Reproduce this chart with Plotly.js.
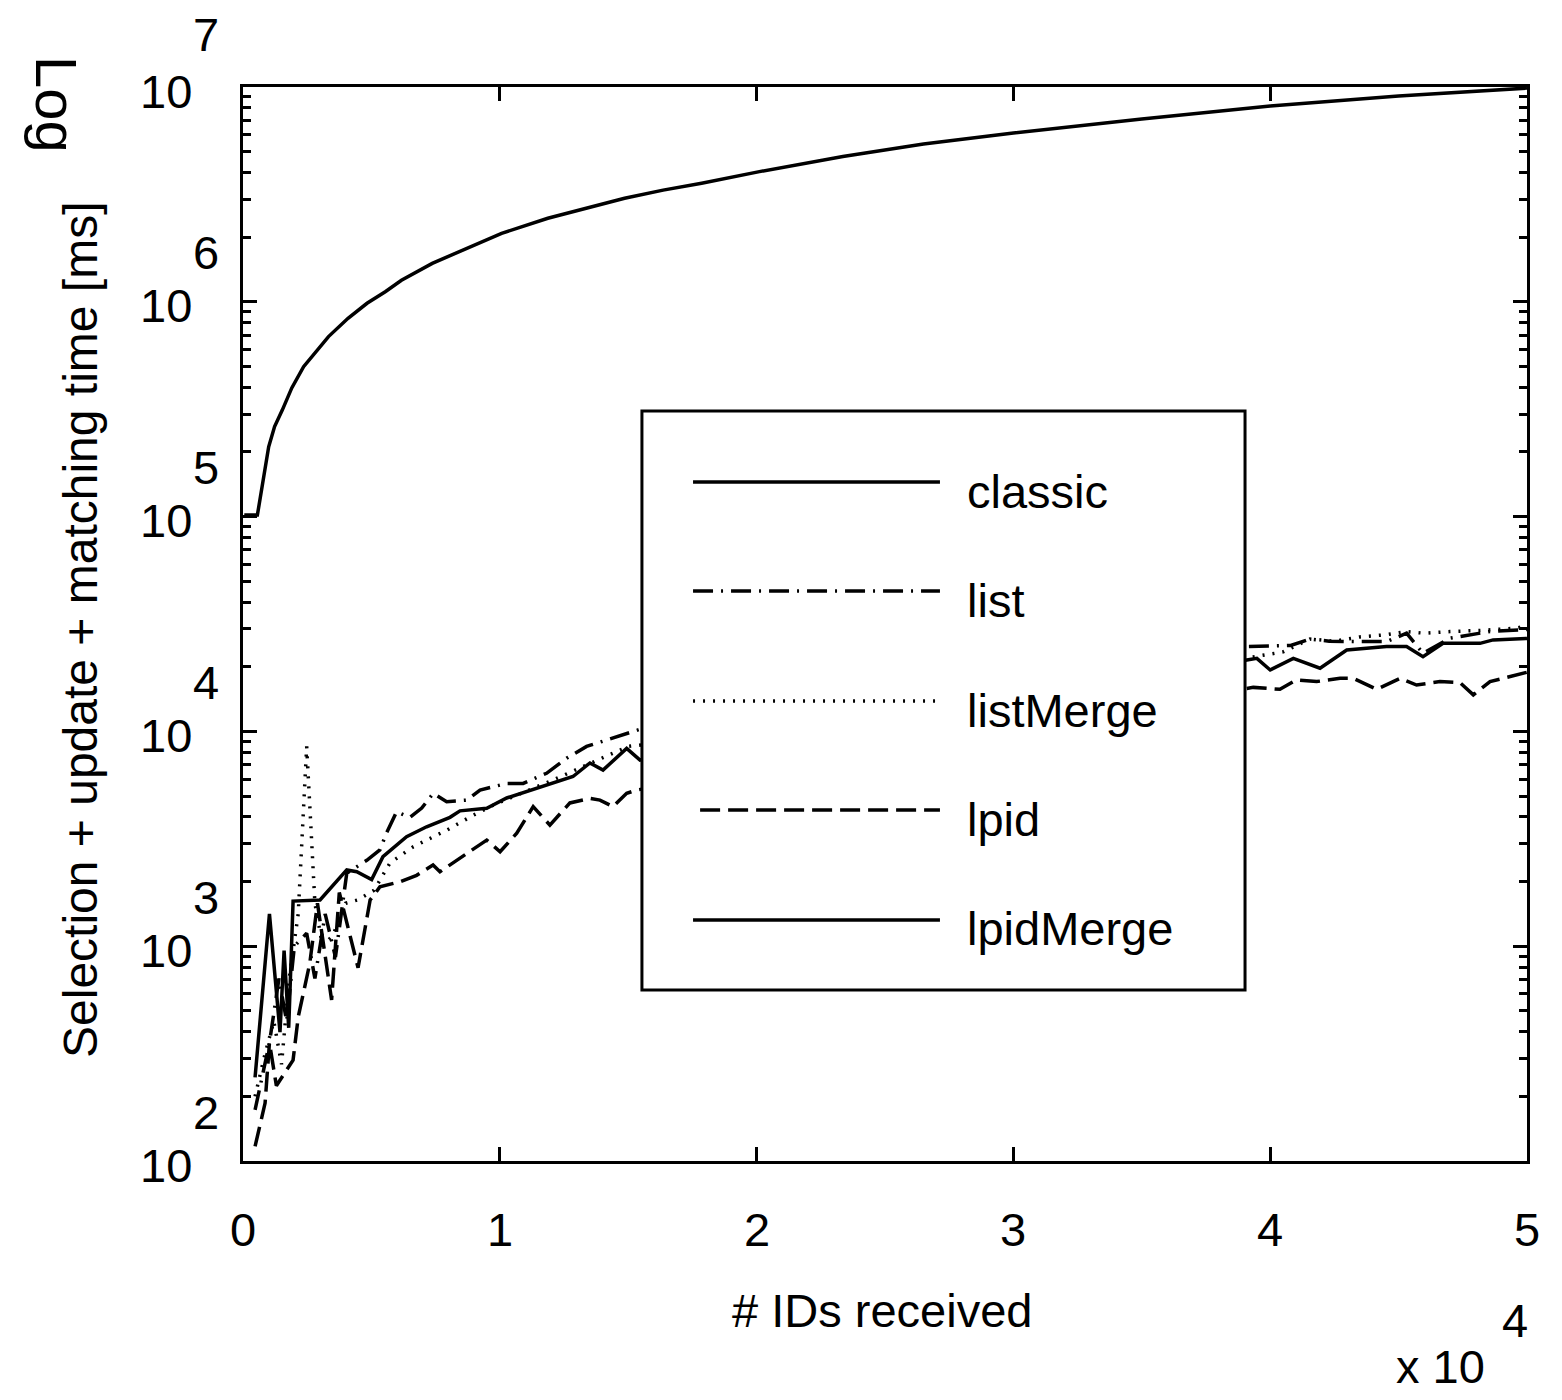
<!DOCTYPE html>
<html>
<head>
<meta charset="utf-8">
<script src="https://cdn.plot.ly/plotly-3.0.1.min.js"></script>
<style>html,body{margin:0;padding:0;background:#fff;}</style>
</head>
<body>
<div id="chart" style="width:1562px;height:1400px;"></div>
<script>
// ---- data (time in ms vs # IDs received) ----
const seriesNames = ["classic", "list", "listMerge", "lpid", "lpidMerge"];

const classicX = [50, 560, 1000, 1230, 1530, 1900, 2360, 2880, 3330, 4090, 4830, 5540, 6170, 7370, 8870, 10070, 11870, 13360, 14860, 16360, 17860, 20110, 23360, 26500, 30000, 35000, 40000, 45000, 50000];
const classicY = [101600, 101600, 211300, 262400, 313300, 397200, 498900, 597000, 688700, 837500, 984000, 1114000, 1259000, 1510000, 1807000, 2084000, 2449000, 2723000, 3034000, 3311000, 3565000, 4036000, 4742000, 5433000, 6109000, 7096000, 8166000, 9078000, 9886000];

const listX = [470, 860, 1030, 1400, 1700, 2000, 2480, 2800, 3200, 3600, 4040, 4820, 5330, 5590, 5980, 6500, 6960, 7410, 7930, 8710, 9230, 10270, 10910, 11820, 12600, 13380, 14160, 15070, 15460, 20000, 25000, 30000, 35000, 39100, 40120, 40800, 41550, 42300, 43500, 44530, 45310, 45950, 47000, 48560, 49730, 50000];
const listY = [173, 282, 355, 708, 447, 1000, 1148, 708, 1413, 891, 2188, 2512, 2805, 3365, 4227, 3981, 4395, 5152, 4710, 4786, 5333, 5728, 5728, 6383, 7499, 8511, 9120, 9977, 10230, 12020, 15140, 18200, 21380, 24830, 25120, 25120, 26920, 26300, 26180, 26180, 28640, 23120, 27160, 29170, 29650, 29850];

const listMergeX = [470, 860, 1200, 1500, 1800, 2150, 2480, 2800, 3100, 3500, 4000, 4460, 5100, 5720, 6630, 7930, 8970, 9800, 10800, 12000, 13500, 15000, 20000, 25000, 30000, 35000, 39500, 40500, 41550, 42500, 43500, 44500, 45310, 46000, 47000, 48170, 49500, 50000];
const listMergeY = [200, 316, 447, 282, 708, 1413, 8511, 1585, 1000, 1122, 1585, 1641, 1820, 2438, 2904, 3467, 4074, 4571, 5129, 5888, 7079, 8511, 10000, 12590, 15490, 18620, 22390, 23440, 26920, 26300, 27540, 28180, 29170, 28640, 29170, 29510, 30200, 30900];

const lpidX = [470, 860, 1030, 1300, 1950, 2150, 2600, 2900, 3450, 3750, 4480, 4950, 5330, 6110, 6760, 7400, 7670, 8710, 9490, 10010, 10660, 11300, 11950, 12730, 13510, 13900, 14410, 14940, 15330, 20000, 25000, 30000, 35000, 39340, 40380, 41030, 41810, 42720, 43240, 44150, 45060, 45700, 46610, 47390, 47910, 48560, 49600, 50000];
const lpidY = [117, 186, 355, 224, 295, 468, 832, 1585, 562, 1778, 794, 1641, 1888, 1995, 2138, 2388, 2223, 2692, 3119, 2754, 3357, 4467, 3664, 4645, 4875, 4786, 4467, 5152, 5333, 6607, 8511, 10720, 13180, 16030, 15700, 17380, 17060, 17660, 17660, 15700, 17660, 16440, 17060, 16870, 14790, 17060, 18320, 18840];

const lpidMergeX = [470, 1030, 1440, 1600, 1780, 1950, 3000, 4040, 4430, 5010, 5450, 6370, 7150, 8060, 8450, 9490, 10270, 11570, 12850, 13510, 14020, 14940, 15460, 20000, 25000, 30000, 35000, 39090, 39480, 40000, 40900, 41940, 42980, 44530, 45310, 45950, 46730, 48170, 48680, 50000];
const lpidMergeY = [245, 1413, 398, 955, 417, 1622, 1641, 2265, 2223, 2042, 2612, 3236, 3597, 3981, 4266, 4385, 4898, 5521, 6166, 7129, 6607, 8337, 7345, 9550, 12020, 14790, 17780, 21480, 21880, 19320, 21880, 19680, 23930, 24830, 24830, 22280, 25700, 25700, 26670, 27100];

const xTickVals = [0, 10000, 20000, 30000, 40000, 50000];
const xTickText = ["0", "1", "2", "3", "4", "5"];
const yTickExp = [2, 3, 4, 5, 6, 7];

// ---- styles ----
const FONT = "Liberation Sans, Arial, Helvetica, sans-serif";
const FS = 47;
const dashes = {
  classic: "solid",
  list: "20px,8px,2px,8px",
  listMerge: "2px,8px",
  lpid: "20px,8px",
  lpidMerge: "solid"
};
const dataX = [classicX, listX, listMergeX, lpidX, lpidMergeX];
const dataY = [classicY, listY, listMergeY, lpidY, lpidMergeY];

const traces = seriesNames.map((n, i) => ({
  type: "scatter", mode: "lines", name: n,
  x: dataX[i], y: dataY[i],
  line: {color: "#000", width: 3.5, dash: dashes[n]},
  showlegend: false, hoverinfo: "skip"
}));

const yTickVals = yTickExp.map(e => Math.pow(10, e));
const yMinor = [];
for (let e = 2; e < 7; e++) for (let k = 2; k <= 9; k++) yMinor.push(k * Math.pow(10, e));

const annotations = [];
// y tick labels: "10" with exponent
yTickExp.forEach(e => {
  annotations.push({xref: "paper", yref: "y", x: 0, y: e, text: "10", showarrow: false,
    xanchor: "right", yanchor: "middle", xshift: -49, yshift: -4,
    font: {family: FONT, size: FS, color: "#000"}});
  annotations.push({xref: "paper", yref: "y", x: 0, y: e, text: String(e), showarrow: false,
    xanchor: "center", yanchor: "middle", xshift: -37, yshift: e === 7 ? 53 : 49,
    font: {family: FONT, size: FS, color: "#000"}});
});
// x tick labels
xTickVals.forEach((v, i) => {
  annotations.push({xref: "x", yref: "paper", x: v, y: 0, text: xTickText[i], showarrow: false,
    xanchor: "center", yanchor: "middle", yshift: -68,
    font: {family: FONT, size: FS, color: "#000"}});
});
// axis titles & multiplier
annotations.push({xref: "paper", yref: "paper", x: 0.498, y: 0, text: "# IDs received", showarrow: false,
  xanchor: "center", yanchor: "middle", yshift: -149, font: {family: FONT, size: FS, color: "#000"}});
annotations.push({xref: "paper", yref: "paper", x: 0.933, y: 0, text: "x 10", showarrow: false,
  xanchor: "center", yanchor: "middle", yshift: -205, font: {family: FONT, size: FS, color: "#000"}});
annotations.push({xref: "paper", yref: "paper", x: 0.9907, y: 0, text: "4", showarrow: false,
  xanchor: "center", yanchor: "middle", yshift: -159, font: {family: FONT, size: FS, color: "#000"}});
annotations.push({xref: "paper", yref: "paper", x: -0.127, y: 0.4944, text: "Selection + update + matching time [ms]",
  showarrow: false, textangle: -90, xanchor: "center", yanchor: "middle",
  font: {family: FONT, size: 48, color: "#000"}});
annotations.push({xref: "paper", yref: "paper", x: -0.1449, y: 0.9832, text: "Log",
  showarrow: false, textangle: 90, xanchor: "center", yanchor: "middle",
  font: {family: FONT, size: 58, color: "#000"}});

// manual legend (long line samples)
const shapes = [{type: "rect", xref: "paper", yref: "paper", x0: 0.3107, x1: 0.7804, y0: 0.1592, y1: 0.6983,
  fillcolor: "#fff", line: {color: "#000", width: 3}, layer: "above"}];
const legRowY = [0.6322, 0.5307, 0.4283, 0.3268, 0.2244];
const legX0 = [0.3505, 0.3505, 0.3505, 0.3560, 0.3505];
seriesNames.forEach((n, i) => {
  shapes.push({type: "line", xref: "paper", yref: "paper", x0: legX0[i], x1: 0.5428,
    y0: legRowY[i], y1: legRowY[i], line: {color: "#000", width: 3.5, dash: dashes[n]}, layer: "above"});
  annotations.push({xref: "paper", yref: "paper", x: 0.5623, y: legRowY[i], text: n, showarrow: false,
    xanchor: "left", yanchor: "middle", yshift: -9, font: {family: FONT, size: FS, color: "#000"}});
});

const layout = {
  width: 1562, height: 1400,
  margin: {l: 243, r: 35, t: 87, b: 239, pad: 0},
  paper_bgcolor: "#fff", plot_bgcolor: "#fff",
  showlegend: false,
  font: {family: FONT, size: FS, color: "#000"},
  xaxis: {range: [0, 50000], tickvals: xTickVals, showticklabels: false,
    ticks: "inside", ticklen: 14, tickwidth: 3, tickcolor: "#000",
    showline: true, linecolor: "#000", linewidth: 3, mirror: "ticks",
    showgrid: false, zeroline: false},
  yaxis: {type: "log", range: [2, 7], tickvals: yTickVals, showticklabels: false,
    ticks: "inside", ticklen: 14, tickwidth: 3, tickcolor: "#000",
    minor: {tickvals: yMinor, ticks: "inside", ticklen: 8, tickwidth: 3, tickcolor: "#000", showgrid: false},
    showline: true, linecolor: "#000", linewidth: 3, mirror: "ticks",
    showgrid: false, zeroline: false},
  shapes: shapes,
  annotations: annotations
};

Plotly.newPlot("chart", traces, layout, {displayModeBar: false, staticPlot: true});
</script>
</body>
</html>
